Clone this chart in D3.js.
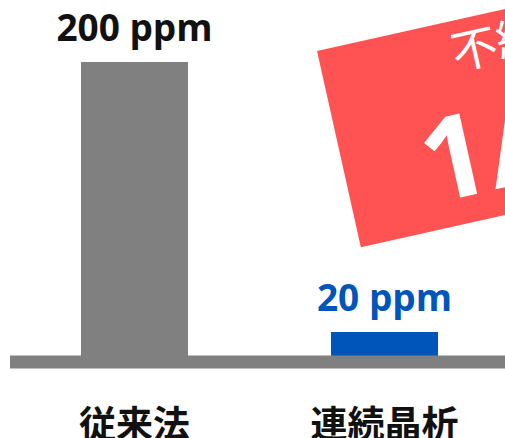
<!DOCTYPE html>
<html><head><meta charset="utf-8">
<script src="https://cdn.jsdelivr.net/npm/d3@7"></script>
<style>html,body{margin:0;padding:0;background:#fff;overflow:hidden}</style>
</head><body>
<script>
const categories = ["従来法", "連続晶析"];
const values = [200, 20];
const valueLabels = ["200 ppm", "20 ppm"];
const barColors = ["#808080", "#0055bb"];
const labelColors = ["#111111", "#0055bb"];
const badgeLine1 = "不純物";
const badgeLine2 = "1/10";

const W = 505, H = 438;
const svg = d3.select("body").append("svg").attr("width", W).attr("height", H);

const x = d3.scaleBand().domain(categories).range([9.5, 509.5]).paddingInner(0.572).paddingOuter(0.286);
const y = d3.scaleLinear().domain([0, 200]).range([362, 62]);

// badge
const g = svg.append("g").attr("transform", "translate(317,51) rotate(-12.6)");
g.append("rect").attr("x", 0).attr("y", 0).attr("width", 400).attr("height", 201).attr("fill", "#ff5252");
g.append("text").attr("x", 200).attr("y", 49).attr("text-anchor", "middle")
  .attr("font-family", "'Noto Sans CJK JP'").attr("font-weight", 400).attr("font-size", 46)
  .attr("fill", "#fff").text(badgeLine1);
g.append("text").attr("x", 200).attr("y", 174).attr("text-anchor", "middle")
  .attr("font-family", "'Open Sans'").attr("font-weight", 700).attr("font-size", 115)
  .attr("fill", "#fff").text(badgeLine2);

// bars
svg.selectAll("rect.bar").data(categories).enter().append("rect").attr("class", "bar")
  .attr("x", d => x(d)).attr("width", x.bandwidth())
  .attr("y", (d, i) => y(values[i])).attr("height", (d, i) => y(0) - y(values[i]))
  .attr("fill", (d, i) => barColors[i]);

// baseline
svg.append("line").attr("x1", 10).attr("x2", 510).attr("y1", y(0)).attr("y2", y(0))
  .attr("stroke", "#808080").attr("stroke-width", 13);

// value labels
svg.selectAll("text.val").data(categories).enter().append("text").attr("class", "val")
  .attr("x", d => x(d) + x.bandwidth() / 2).attr("y", (d, i) => y(values[i]) - 21)
  .attr("text-anchor", "middle").attr("font-family", "'Open Sans'").attr("font-weight", 700)
  .attr("font-size", 37).attr("fill", (d, i) => labelColors[i]).text((d, i) => valueLabels[i]);

// category labels
svg.selectAll("text.cat").data(categories).enter().append("text").attr("class", "cat")
  .attr("x", d => x(d) + x.bandwidth() / 2).attr("y", 438)
  .attr("text-anchor", "middle").attr("font-family", "'Noto Sans CJK JP'").attr("font-weight", 700)
  .attr("font-size", 37).attr("fill", "#111").text(d => d);
</script>
</body></html>
